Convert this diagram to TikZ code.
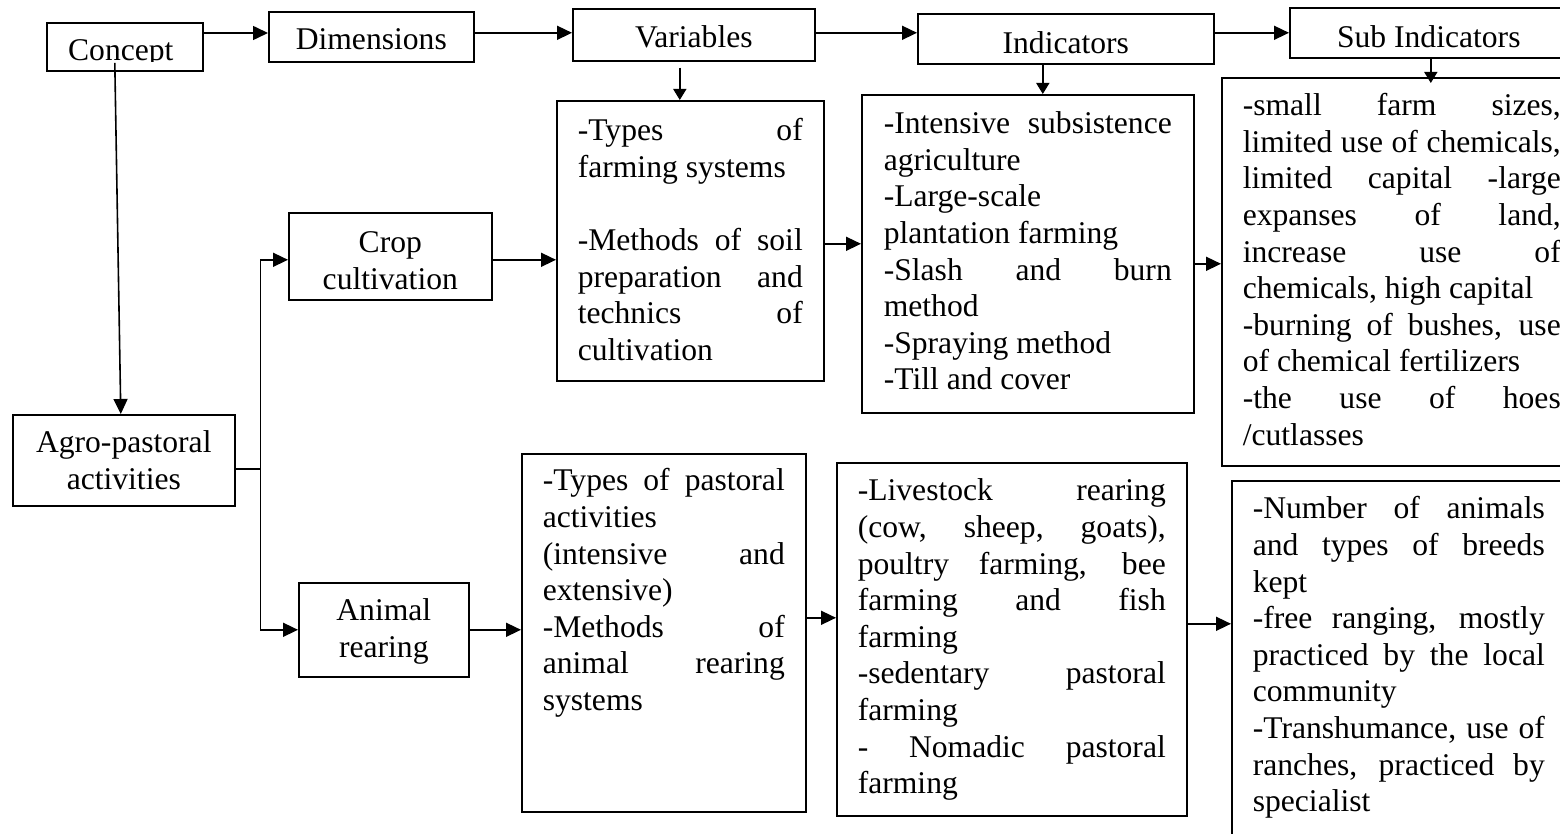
\documentclass[tikz,border=0pt]{standalone}
\usepackage{fontspec}
\setmainfont{Liberation Serif}
\usepackage{tikz}
\usetikzlibrary{arrows.meta}

% body text of every box
\newcommand{\boxfont}{\fontsize{31.6pt}{36.6pt}\selectfont\hyphenpenalty=10000\tolerance=10000\relax}

\begin{document}
\begin{tikzpicture}[x=1pt, y=-1pt, line width=1.6pt,
    box/.style={draw, font=\boxfont, anchor=north west, inner ysep=0pt},
    listbox/.style={box, align=justify, inner xsep=21pt},
    headbox/.style={box, align=center, inner xsep=0pt},
    conn/.style={-{Triangle[length=15pt,width=14pt]}},
    down/.style={-{Triangle[length=11pt,width=13pt]}}]
  \useasboundingbox (0,0) rectangle (1560,834);
  \clip (0,0) rectangle (1560,834);
  \fill[white] (0,0) rectangle (1560,834);

  % Header row
  \node[box, minimum width=156pt, text height=48pt, text depth=0pt] (concept) at (46,22) {};
  \begin{scope}
    \clip (concept.north west) rectangle ([yshift=10pt]concept.south east);
    \node[font=\boxfont, anchor=base, inner sep=0pt] (conceptlabel) at ([shift={(-4pt,11pt)}]concept.south) {Concept};
  \end{scope}
  \node[box, minimum width=205pt, text height=38pt, text depth=12pt] (dims) at (268,11) {Dimensions};
  \node[box, minimum width=242pt, text height=39pt, text depth=13pt] (vars) at (572,8) {Variables};
  \node[box, minimum width=296pt, text height=40pt, text depth=10pt] (inds) at (917,13) {Indicators};
  \node[box, minimum width=278pt, text height=40pt, text depth=10pt] (subs) at (1289,7) {Sub Indicators};

  \draw[conn] ([yshift=-11pt]concept.north east) -- ([yshift=-11pt]concept.north east -| dims.west);
  \draw[conn] ([yshift=4pt]dims.east) -- ([yshift=4pt]dims.east -| vars.west);
  \draw[conn] ([yshift=2pt]vars.east) -- ([yshift=2pt]vars.east -| inds.west);
  \draw[conn] ([yshift=6pt]inds.east) -- ([yshift=6pt]inds.east -| subs.west);

  % Left column
  \node[headbox, text width=222pt, text height=38pt, text depth=53pt] (agro) at (12,414) {Agro-pastoral\\activities};
  \node[headbox, text width=203pt, text height=40pt, text depth=47pt] (crop) at (288,212) {Crop\\cultivation};
  \node[headbox, text width=170pt, text height=38pt, text depth=56pt] (animal) at (298,582) {Animal\\rearing};

  % Crop cultivation row
  \node[listbox, text width=225pt, text height=40pt, text depth=240pt] (varCrop) at (556,100)
    {-Types of\linebreak farming systems\newline\null\newline
     -Methods of soil\linebreak preparation and\linebreak technics of\linebreak cultivation};
  \node[listbox, inner xsep=22pt, text width=288pt, text height=39pt, text depth=279pt] (indCrop) at (861,94)
    {-Intensive subsistence\linebreak agriculture\newline -Large-scale\newline plantation farming\newline
     -Slash and burn\linebreak method\newline -Spraying method\newline -Till and cover};
  \node[listbox, text width=318pt, text height=38pt, text depth=350pt] (subCrop) at (1221,77)
    {-small farm sizes,\linebreak limited use of chemicals,\linebreak limited capital -large\linebreak
     expanses of land,\linebreak increase use of\linebreak chemicals, high capital\newline
     -burning of bushes, use\linebreak of chemical fertilizers\newline -the use of hoes\linebreak /cutlasses};

  % Animal rearing row
  \node[listbox, text width=242pt, text height=37pt, text depth=321pt] (varAnim) at (521,453)
    {-Types of pastoral\linebreak activities\newline (intensive and\linebreak extensive)\newline
     -Methods of\linebreak animal rearing\linebreak systems};
  \node[listbox, text width=308pt, text height=38pt, text depth=315pt] (indAnim) at (836,462)
    {-Livestock rearing\linebreak (cow, sheep, goats),\linebreak poultry farming, bee\linebreak
     farming and fish\linebreak farming\newline -sedentary pastoral\linebreak farming\newline
     - Nomadic pastoral\linebreak farming};
  \node[listbox, text width=292pt, text height=38pt, text depth=352pt] (subAnim) at (1231,480)
    {-Number of animals\linebreak and types of breeds\linebreak kept\newline
     -free ranging, mostly\linebreak practiced by the local\linebreak community\newline
     -Transhumance, use of\linebreak ranches, practiced by\linebreak specialist};

  % Down arrows from the headers
  \draw[down] ([shift={(-14pt,-6pt)}]vars.south) -- ([xshift=-14pt]vars.south |- varCrop.north);
  \draw[down] ([xshift=-23pt]inds.south) -- ([xshift=-23pt]inds.south |- indCrop.north);
  \draw[down] ([xshift=2pt]subs.south) -- ([shift={(2pt,-6pt)}]subs.south |- subCrop.north);

  % Concept to activities, then the fork
  \draw[conn] ([shift={(-10pt,-16pt)}]concept.center) -- ([xshift=-3pt]agro.north);
  \draw ([yshift=-8.5pt]agro.east) -- ++(25,0) coordinate (fork);
  \draw[conn] (fork) |- ([yshift=-3.5pt]crop.west);
  \draw[conn] (fork) |- (animal.west);

  % Links along the rows
  \draw[conn] ([yshift=-3.5pt]crop.east) -- ([yshift=-3.5pt]crop.east -| varCrop.west);
  \draw[conn] ([yshift=-3pt]varCrop.east) -- ([yshift=-3pt]varCrop.east -| indCrop.west);
  \draw[conn] ([yshift=-10pt]indCrop.east) -- ([yshift=-10pt]indCrop.east -| subCrop.west);
  \draw[conn] (animal.east) -- (animal.east -| varAnim.west);
  \draw[conn] ([yshift=15pt]varAnim.east) -- ([yshift=15pt]varAnim.east -| indAnim.west);
  \draw[conn] ([yshift=15.5pt]indAnim.east) -- ([yshift=15.5pt]indAnim.east -| subAnim.west);
\end{tikzpicture}
\end{document}
